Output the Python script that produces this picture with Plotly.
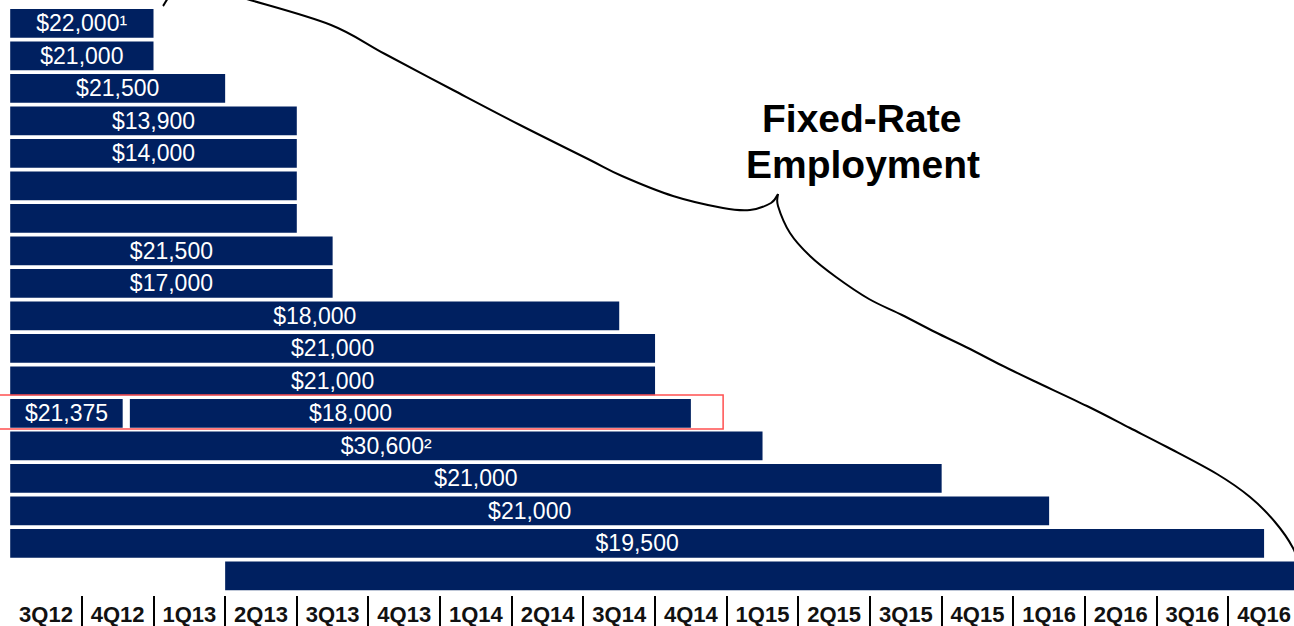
import plotly.graph_objects as go

# ---------------- data ----------------
quarters = ["3Q12", "4Q12", "1Q13", "2Q13", "3Q13", "4Q13", "1Q14", "2Q14", "3Q14",
            "4Q14", "1Q15", "2Q15", "3Q15", "4Q15", "1Q16", "2Q16", "3Q16", "4Q16"]

# one row per contract (top to bottom); start/end in quarters from 3Q12
row_labels = ["$22,000¹", "$21,000", "$21,500", "$13,900", "$14,000", None, None,
              "$21,500", "$17,000", "$18,000", "$21,000", "$21,000", None,
              "$30,600²", "$21,000", "$21,000", "$19,500", None]
row_start = [0, 0, 0, 0, 0, 0, 0, 0, 0, 0, 0, 0, 1.67, 0, 0, 0, 0, 3]
row_end = [2, 2, 3, 4, 4, 4, 4, 4.5, 4.5, 8.5, 9, 9, 9.5, 10.5, 13, 14.5, 17.5, 18]

# split row (row 13): first segment and the label of the full contract
split_row = 12
split_label = "$21,375"
split_start = 0
split_end = 1.57
split_main_label = "$18,000"
split_main_start = 0
split_main_end = 9.5

highlight_row = 12
highlight_end = 9.95

# ---------------- layout constants ----------------
W, H = 1294, 626
X0, QW = 10.2, 71.65      # pixel of quarter 0, pixels per quarter
Y0, RP = 23.3, 32.5       # pixel centre of row 0, pixels per row
BOTTOM = 31
PLOT_H = H - BOTTOM

NAVY = "#002060"
FONT = "Arial, Liberation Sans, sans-serif"


def px2d(px, py):
    return (px - X0) / QW, (py - Y0) / RP


rows = list(range(len(row_labels)))
lengths = [e - s for s, e in zip(row_start, row_end)]

fig = go.Figure()
fig.add_trace(go.Bar(
    orientation="h", y=rows, x=lengths, base=row_start,
    width=0.883, marker=dict(color=NAVY, line=dict(width=0)),
    text=row_labels, textposition="inside", insidetextanchor="middle",
    textangle=0, constraintext="none",
    textfont=dict(family=FONT, size=23, color="white"),
    hoverinfo="skip", showlegend=False,
))
fig.add_trace(go.Bar(
    orientation="h", y=[split_row], x=[split_end - split_start], base=[split_start],
    width=0.883, marker=dict(color=NAVY, line=dict(width=0)),
    text=[split_label], textposition="inside", insidetextanchor="middle",
    textangle=0, constraintext="none",
    textfont=dict(family=FONT, size=23, color="white"),
    hoverinfo="skip", showlegend=False,
))

annotations = [
    dict(x=(split_main_start + split_main_end) / 2, y=split_row, xref="x", yref="y",
         text=split_main_label, showarrow=False,
         font=dict(family=FONT, size=23, color="white")),
]
cx, cy1 = px2d(861, 118)
_, cy2 = px2d(863, 164.5)
annotations.append(dict(x=cx, y=cy1, xref="x", yref="y", text="<b>Fixed-Rate</b>",
                        showarrow=False, font=dict(family=FONT, size=39, color="black")))
annotations.append(dict(x=px2d(863, 0)[0], y=cy2, xref="x", yref="y", text="<b>Employment</b>",
                        showarrow=False, font=dict(family=FONT, size=39, color="black")))

# ---------------- brace (decoration, pixel guide points) ----------------
upper_arm = [(163, 6), (176, -8), (212, -10), (250, 0), (331, 25), (385, 54), (453, 90),
             (520, 125), (588, 159), (622, 176), (673, 196), (723, 208), (750, 210),
             (771, 203), (778, 194)]
lower_arm = [(778, 194), (778, 206), (790, 233), (810, 256), (836, 277), (869, 299),
             (902, 315), (935, 332), (968, 348), (1001, 365), (1034, 381), (1087, 406),
             (1130, 428), (1167, 447), (1217, 474), (1250, 497), (1275, 522),
             (1293, 548), (1303, 575)]


def smooth_path(pts):
    d = [px2d(*p) for p in pts]
    s = "M %.4f,%.4f" % d[0]
    n = len(d)
    for i in range(n - 1):
        p0 = d[i - 1] if i > 0 else d[i]
        p1 = d[i]
        p2 = d[i + 1]
        p3 = d[i + 2] if i + 2 < n else d[i + 1]
        c1 = (p1[0] + (p2[0] - p0[0]) / 6, p1[1] + (p2[1] - p0[1]) / 6)
        c2 = (p2[0] - (p3[0] - p1[0]) / 6, p2[1] - (p3[1] - p1[1]) / 6)
        s += " C %.4f,%.4f %.4f,%.4f %.4f,%.4f" % (c1[0], c1[1], c2[0], c2[1], p2[0], p2[1])
    return s


shapes = [
    dict(type="path", xref="x", yref="y", path=smooth_path(upper_arm),
         line=dict(color="black", width=2)),
    dict(type="path", xref="x", yref="y", path=smooth_path(lower_arm),
         line=dict(color="black", width=2)),
    dict(type="rect", xref="x", yref="y", x0=-0.4, x1=highlight_end,
         y0=highlight_row - 0.56, y1=highlight_row + 0.48,
         line=dict(color="rgb(255,80,80)", width=1.5), fillcolor="rgba(0,0,0,0)"),
]

x_lo = (0 - X0) / QW
x_hi = (W - X0) / QW
y_top = (0 - Y0) / RP
y_bot = (PLOT_H - Y0) / RP

fig.update_layout(
    width=W, height=H,
    margin=dict(l=0, r=0, t=0, b=BOTTOM, autoexpand=False),
    paper_bgcolor="white", plot_bgcolor="white",
    barmode="overlay",
    xaxis=dict(range=[x_lo, x_hi], showgrid=False, zeroline=False, showline=False,
               tickmode="array", tickvals=[i + 0.5 for i in range(len(quarters))],
               ticktext=quarters, ticks="", automargin=False, ticklabelstandoff=4,
               tickfont=dict(family=FONT, size=22, color="#111111", weight="bold"),
               minor=dict(tickmode="array", tickvals=list(range(1, len(quarters))),
                          ticks="outside", ticklen=31, tickwidth=1.5, tickcolor="black",
                          showgrid=False)),
    yaxis=dict(range=[y_bot, y_top], visible=False, showgrid=False, zeroline=False),
    annotations=annotations,
    shapes=shapes,
)

fig.write_html(
    "out.html",
    config={"displayModeBar": False},
    post_script="document.body.style.margin='0';document.body.style.padding='0';",
)
